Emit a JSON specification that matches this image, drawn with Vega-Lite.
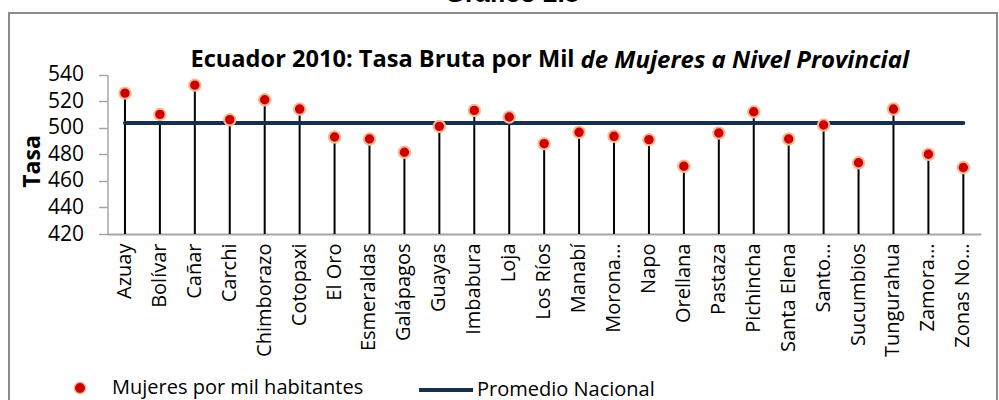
{
  "$schema": "https://vega.github.io/schema/vega-lite/v6.json",
  "width": 988,
  "height": 392,
  "autosize": {"type": "none"},
  "padding": {"left": 9, "top": 13, "right": 2, "bottom": 0},
  "background": "white",
  "title": {"text": "Gráfico 2.8", "font": "Liberation Sans", "fontSize": 26, "fontWeight": "bold", "color": "black", "anchor": "middle", "dx": 9, "offset": 6},
  "config": {"view": {"stroke": "#8c8c8c", "strokeWidth": 2}, "font": "Open Sans"},
  "data": {"values": [
    {"provincia": "Azuay", "tasa": 526, "promedio": 503.5},
    {"provincia": "Bolívar", "tasa": 510, "promedio": 503.5},
    {"provincia": "Cañar", "tasa": 532, "promedio": 503.5},
    {"provincia": "Carchi", "tasa": 506, "promedio": 503.5},
    {"provincia": "Chimborazo", "tasa": 521, "promedio": 503.5},
    {"provincia": "Cotopaxi", "tasa": 514, "promedio": 503.5},
    {"provincia": "El Oro", "tasa": 493, "promedio": 503.5},
    {"provincia": "Esmeraldas", "tasa": 491.5, "promedio": 503.5},
    {"provincia": "Galápagos", "tasa": 481.5, "promedio": 503.5},
    {"provincia": "Guayas", "tasa": 501, "promedio": 503.5},
    {"provincia": "Imbabura", "tasa": 513, "promedio": 503.5},
    {"provincia": "Loja", "tasa": 508, "promedio": 503.5},
    {"provincia": "Los Ríos", "tasa": 488, "promedio": 503.5},
    {"provincia": "Manabí", "tasa": 496.5, "promedio": 503.5},
    {"provincia": "Morona…", "tasa": 493.5, "promedio": 503.5},
    {"provincia": "Napo", "tasa": 491, "promedio": 503.5},
    {"provincia": "Orellana", "tasa": 471, "promedio": 503.5},
    {"provincia": "Pastaza", "tasa": 496, "promedio": 503.5},
    {"provincia": "Pichincha", "tasa": 512, "promedio": 503.5},
    {"provincia": "Santa Elena", "tasa": 491.5, "promedio": 503.5},
    {"provincia": "Santo…", "tasa": 502, "promedio": 503.5},
    {"provincia": "Sucumbios", "tasa": 473.6, "promedio": 503.5},
    {"provincia": "Tungurahua", "tasa": 514, "promedio": 503.5},
    {"provincia": "Zamora…", "tasa": 480, "promedio": 503.5},
    {"provincia": "Zonas No…", "tasa": 470, "promedio": 503.5}
  ]},
  "resolve": {"axis": {"x": "independent", "y": "independent"}},
  "layer": [
    {
      "mark": {"type": "rule", "color": "black", "strokeWidth": 2},
      "encoding": {
        "x": {"field": "provincia", "type": "nominal", "sort": null, "scale": {"type": "band", "range": [98.5, 971.8], "paddingInner": 0, "paddingOuter": 0}, "axis": null},
        "y": {"field": "tasa", "type": "quantitative", "scale": {"domain": [420, 540], "range": [221, 61.5], "nice": false, "zero": false}, "axis": null},
        "y2": {"datum": 420}
      }
    },
    {
      "mark": {"type": "line", "strokeWidth": 4, "strokeCap": "round"},
      "encoding": {
        "x": {"field": "provincia", "type": "nominal", "sort": null, "axis": {"orient": "top", "labels": false, "ticks": false, "domain": false, "title": "de Mujeres a Nivel Provincial", "titleFont": "Open Sans", "titleFontSize": 24, "titleFontStyle": "italic", "titleFontWeight": "bold", "titleColor": "black", "titleX": 571, "titleY": 54, "titleAlign": "left", "titleBaseline": "alphabetic", "titleAngle": 0, "titleLimit": 600}},
        "y": {"field": "promedio", "type": "quantitative", "axis": null},
        "stroke": {"datum": "Promedio  Nacional", "type": "nominal", "scale": {"range": ["#15304f"]}, "legend": {"orient": "none", "legendX": 408, "legendY": 348, "title": null, "symbolType": "stroke", "symbolSize": 2916, "symbolStrokeWidth": 4, "labelOffset": 2, "labelLimit": 400, "labelFont": "Open Sans", "labelFontSize": 20, "labelColor": "black"}}
      }
    },
    {
      "mark": {"type": "point", "filled": true, "size": 130, "stroke": "#f5b893", "strokeWidth": 2, "opacity": 1},
      "encoding": {
        "x": {"field": "provincia", "type": "nominal", "sort": null, "axis": {"orient": "bottom", "offset": -171, "labelAngle": 270, "labelAlign": "right", "labelBaseline": "middle", "labelFont": "Open Sans", "labelFontSize": 20, "labelColor": "black", "labelPadding": 9, "labelOverlap": false, "labelLimit": 300, "ticks": false, "tickSize": 0, "domainColor": "#a6a6a6", "domainWidth": 2, "title": "Ecuador 2010: Tasa Bruta por Mil", "titleFont": "Open Sans", "titleFontSize": 23.6, "titleFontWeight": "bold", "titleColor": "black", "titleX": 181, "titleY": -167.3, "titleAlign": "left", "titleBaseline": "alphabetic", "titleAngle": 0, "titleLimit": 600}},
        "y": {"field": "tasa", "type": "quantitative", "axis": {"orient": "left", "offset": -98.5, "values": [420, 440, 460, 480, 500, 520, 540], "labelFont": "Open Sans", "labelFontSize": 21, "labelColor": "black", "labelPadding": 15, "labelOverlap": false, "tickSize": 9, "tickColor": "#a6a6a6", "tickWidth": 1.5, "domainColor": "#a6a6a6", "domainWidth": 1.5, "grid": false, "title": "Tasa", "titleFont": "Open Sans", "titleFontSize": 23, "titleFontWeight": "bold", "titleColor": "black", "titlePadding": 3, "titleY": 148}},
        "fill": {"datum": "Mujeres por mil habitantes", "type": "nominal", "scale": {"range": ["#cc0000"]}, "legend": {"orient": "none", "legendX": 61, "legendY": 365, "title": null, "symbolType": "circle", "symbolSize": 130, "symbolOpacity": 1, "labelOffset": 22, "labelLimit": 400, "labelFont": "Open Sans", "labelFontSize": 20, "labelColor": "black", "encode": {"symbols": {"update": {"stroke": {"value": "#f5b893"}, "strokeWidth": {"value": 2}, "fill": {"value": "#cc0000"}}}}}}
      }
    }
  ]
}
